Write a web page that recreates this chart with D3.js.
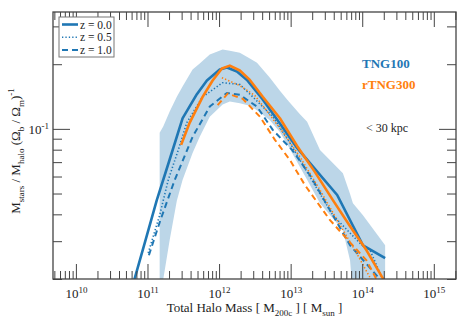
<!DOCTYPE html>
<html>
<head>
<meta charset="utf-8">
<script src="https://cdn.jsdelivr.net/npm/d3@7"></script>
<style>
    body { margin: 0; background: #fff; }
    svg text { font-family: "Liberation Serif", "Times New Roman", serif; }
    .tick line { stroke: #444; }
</style>
</head>
<body>
<div id="chart"></div>
<script>

    // TNG100 (blue), halo mass in log10 Msun, ratio M*/Mhalo/(Ob/Om)
    var tng100z0Mass  = [10.80, 10.96, 11.13, 11.31, 11.49, 11.69, 11.83, 12.01, 12.11, 12.25, 12.39, 12.61, 12.85, 13.09, 13.27, 13.65, 14.01, 14.32];
    var tng100z0Ratio = [0.0190, 0.0293, 0.0466, 0.072, 0.112, 0.145, 0.168, 0.189, 0.193, 0.185, 0.169, 0.137, 0.106, 0.0815, 0.0693, 0.0492, 0.0287, 0.0250];

    var tng100z05Mass  = [11.01, 11.17, 11.29, 11.43, 11.55, 11.77, 12.05, 12.29, 12.47, 12.75, 12.99, 13.13, 13.59, 13.97, 14.11, 14.32];
    var tng100z05Ratio = [0.0264, 0.0396, 0.0578, 0.0798, 0.107, 0.141, 0.164, 0.161, 0.141, 0.114, 0.0861, 0.0716, 0.0396, 0.0293, 0.0272, 0.0187];

    var tng100z1Mass  = [11.02, 11.17, 11.38, 11.63, 11.87, 12.11, 12.29, 12.53, 12.75, 13.02, 13.27, 13.59, 13.83, 14.04, 14.25];
    var tng100z1Ratio = [0.0258, 0.0367, 0.0578, 0.0918, 0.127, 0.147, 0.144, 0.127, 0.0989, 0.0798, 0.0609, 0.0396, 0.0287, 0.0239, 0.0199];

    // TNG100 z=0 scatter band
    var bandMass = [11.17, 11.22, 11.31, 11.41, 11.49, 11.63, 11.73, 11.87, 12.05, 12.15, 12.29, 12.43, 12.53, 12.71, 12.85, 12.95, 13.13, 13.23, 13.41, 13.73, 13.83, 13.87, 14.01, 14.32];
    var bandHi   = [0.0958, 0.1026, 0.1203, 0.141, 0.1573, 0.189, 0.2017, 0.222, 0.234, 0.231, 0.226, 0.2127, 0.203, 0.173, 0.1505, 0.137, 0.1171, 0.108, 0.0798, 0.0622, 0.0497, 0.0451, 0.0396, 0.0287];
    var bandLo   = [0.0159, 0.0199, 0.0304, 0.0463, 0.0578, 0.0773, 0.0918, 0.114, 0.1297, 0.134, 0.1316, 0.128, 0.122, 0.1096, 0.0968, 0.0851, 0.0664, 0.058, 0.0451, 0.0337, 0.0244, 0.017, 0.015, 0.015];

    // rTNG300 (orange)
    var rtng300z0Mass  = [11.47, 11.59, 11.77, 11.91, 12.04, 12.15, 12.29, 12.43, 12.61, 12.85, 13.09, 13.34, 13.59, 13.83, 14.06, 14.29, 14.32];
    var rtng300z0Ratio = [0.0842, 0.107, 0.141, 0.168, 0.191, 0.197, 0.187, 0.169, 0.141, 0.112, 0.0833, 0.0629, 0.0466, 0.0352, 0.0272, 0.0201, 0.0195];

    var rtng300z05Mass  = [12.04, 12.29, 12.50, 12.71, 12.92, 13.13, 13.41, 13.69, 13.90, 14.13];
    var rtng300z05Ratio = [0.173, 0.159, 0.143, 0.116, 0.0938, 0.0740, 0.0519, 0.0356, 0.0272, 0.0197];

    var rtng300z1Mass  = [11.98, 12.12, 12.33, 12.57, 12.78, 12.99, 13.20, 13.55, 13.83, 14.06, 14.20];
    var rtng300z1Ratio = [0.129, 0.146, 0.138, 0.114, 0.0889, 0.0716, 0.0547, 0.0376, 0.0296, 0.0244, 0.0199];

    var legendLabels = ["z = 0.0", "z = 0.5", "z = 1.0"];

    var blue = "#1f77b4";
    var orange = "#ff7f0e";

    var width = 469, height = 325;
    var margin = { top: 12, right: 13, bottom: 46, left: 53 };

    var x = d3.scaleLog()
        .domain([Math.pow(10, 9.68), Math.pow(10, 15.31)])
        .range([margin.left, width - margin.right]);
    var y = d3.scaleLog()
        .domain([0.02, 0.35])
        .range([height - margin.bottom, margin.top]);

    var svg = d3.select("#chart")
        .append("svg")
        .attr("width", width)
        .attr("height", height);

    svg.append("clipPath")
        .attr("id", "plotclip")
        .append("rect")
        .attr("x", margin.left)
        .attr("y", margin.top)
        .attr("width", x.range()[1] - x.range()[0])
        .attr("height", y.range()[0] - y.range()[1]);

    var plot = svg.append("g").attr("clip-path", "url(#plotclip)");

    function pairs(mass, ratio) {
        return mass.map(function (m, i) { return [Math.pow(10, m), ratio[i]]; });
    }

    var line = d3.line()
        .x(function (d) { return x(d[0]); })
        .y(function (d) { return y(d[1]); });

    var area = d3.area()
        .x(function (d) { return x(Math.pow(10, d.m)); })
        .y0(function (d) { return y(d.lo); })
        .y1(function (d) { return y(d.hi); });

    var band = bandMass.map(function (m, i) {
        return { m: m, lo: bandLo[i], hi: bandHi[i] };
    });

    plot.append("path")
        .datum(band)
        .attr("d", area)
        .attr("fill", "#bcd6e8");

    var series = [
        { mass: tng100z05Mass, ratio: tng100z05Ratio, color: blue, style: "dotted" },
        { mass: tng100z1Mass, ratio: tng100z1Ratio, color: blue, style: "dashed" },
        { mass: rtng300z05Mass, ratio: rtng300z05Ratio, color: orange, style: "dotted" },
        { mass: rtng300z1Mass, ratio: rtng300z1Ratio, color: orange, style: "dashed" },
        { mass: tng100z0Mass, ratio: tng100z0Ratio, color: blue, style: "solid" },
        { mass: rtng300z0Mass, ratio: rtng300z0Ratio, color: orange, style: "solid" }
    ];

    var styles = {
        solid:  { w: 2.6, dash: null },
        dotted: { w: 1.6, dash: "1.3,2.1" },
        dashed: { w: 2, dash: "6,4" }
    };

    series.forEach(function (s) {
        plot.append("path")
            .datum(pairs(s.mass, s.ratio))
            .attr("d", line)
            .attr("fill", "none")
            .attr("stroke", s.color)
            .attr("stroke-width", styles[s.style].w)
            .attr("stroke-dasharray", styles[s.style].dash)
            .attr("stroke-linejoin", "round");
    });

    // axes: major and minor ticks pointing inward on all four sides
    function isMajor(d) {
        var l = Math.log10(d);
        return Math.abs(l - Math.round(l)) < 1e-6;
    }
    var xMajor = x.ticks().filter(isMajor);
    var xMinor = x.ticks().filter(function (d) { return !isMajor(d); });
    var yMajor = y.ticks().filter(isMajor);
    var yMinor = y.ticks().filter(function (d) { return !isMajor(d); });

    var bottom = height - margin.bottom, right = width - margin.right;

    function supLabel(sel, size, supSize, dy) {
        sel.selectAll(".tick text")
            .text(null)
            .attr("fill", "#222")
            .attr("font-size", size)
            .each(function (d) {
                var t = d3.select(this);
                t.append("tspan").text("10");
                t.append("tspan").attr("dy", dy).attr("font-size", supSize)
                    .text(Math.round(Math.log10(d)));
            });
    }

    svg.append("g")
        .attr("transform", "translate(0," + bottom + ")")
        .call(d3.axisBottom(x).tickValues(xMinor).tickSize(-8).tickFormat(""))
        .call(function (g) { g.select(".domain").remove(); });
    svg.append("g")
        .attr("transform", "translate(0," + bottom + ")")
        .call(d3.axisBottom(x).tickValues(xMajor).tickSize(-15).tickPadding(10))
        .call(function (g) { g.select(".domain").remove(); })
        .call(supLabel, "13px", "9px", "-0.55em");

    svg.append("g")
        .attr("transform", "translate(0," + margin.top + ")")
        .call(d3.axisTop(x).tickValues(xMinor).tickSize(-8).tickFormat(""))
        .call(function (g) { g.select(".domain").remove(); });
    svg.append("g")
        .attr("transform", "translate(0," + margin.top + ")")
        .call(d3.axisTop(x).tickValues(xMajor).tickSize(-15).tickFormat(""))
        .call(function (g) { g.select(".domain").remove(); });

    svg.append("g")
        .attr("transform", "translate(" + margin.left + ",0)")
        .call(d3.axisLeft(y).tickValues(yMinor).tickSize(-9).tickFormat(""))
        .call(function (g) { g.select(".domain").remove(); });
    svg.append("g")
        .attr("transform", "translate(" + margin.left + ",0)")
        .call(d3.axisLeft(y).tickValues(yMajor).tickSize(-17).tickPadding(4))
        .call(function (g) { g.select(".domain").remove(); })
        .call(supLabel, "13px", "9px", "-0.55em");

    svg.append("g")
        .attr("transform", "translate(" + right + ",0)")
        .call(d3.axisRight(y).tickValues(yMinor).tickSize(-9).tickFormat(""))
        .call(function (g) { g.select(".domain").remove(); });
    svg.append("g")
        .attr("transform", "translate(" + right + ",0)")
        .call(d3.axisRight(y).tickValues(yMajor).tickSize(-17).tickFormat(""))
        .call(function (g) { g.select(".domain").remove(); });

    svg.selectAll(".tick line").attr("stroke", "#444").attr("stroke-width", 1);

    // frame
    svg.append("rect")
        .attr("x", margin.left)
        .attr("y", margin.top)
        .attr("width", right - margin.left)
        .attr("height", bottom - margin.top)
        .attr("fill", "none")
        .attr("stroke", "#444")
        .attr("stroke-width", 1.3);

    // axis titles
    var xt = svg.append("text")
        .attr("x", (margin.left + right) / 2)
        .attr("y", 312)
        .attr("text-anchor", "middle")
        .attr("font-size", "13px")
        .attr("fill", "#222");
    xt.append("tspan").text("Total Halo Mass [ M");
    xt.append("tspan").attr("dy", 4).attr("font-size", "9px").text("200c");
    xt.append("tspan").attr("dy", -4).text(" ] [ M");
    xt.append("tspan").attr("dy", 4).attr("font-size", "9px").text("sun");
    xt.append("tspan").attr("dy", -4).text(" ]");

    var yt = svg.append("text")
        .attr("transform", "translate(20,151) rotate(-90)")
        .attr("text-anchor", "middle")
        .attr("font-size", "13px")
        .attr("fill", "#222");
    yt.append("tspan").text("M");
    yt.append("tspan").attr("dy", 4).attr("font-size", "9px").text("stars");
    yt.append("tspan").attr("dy", -4).text(" / M");
    yt.append("tspan").attr("dy", 4).attr("font-size", "9px").text("halo");
    yt.append("tspan").attr("dy", -4).text(" (\u03A9");
    yt.append("tspan").attr("dy", 4).attr("font-size", "9px").text("b");
    yt.append("tspan").attr("dy", -4).text(" / \u03A9");
    yt.append("tspan").attr("dy", 4).attr("font-size", "9px").text("m");
    yt.append("tspan").attr("dy", -4).text(")");
    yt.append("tspan").attr("dy", -6).attr("font-size", "9px").text("-1");

    // legend
    var legend = svg.append("g");
    legend.append("rect")
        .attr("x", 59).attr("y", 17)
        .attr("width", 55).attr("height", 40)
        .attr("fill", "#fff")
        .attr("stroke", "#777")
        .attr("stroke-width", 1);
    ["solid", "dotted", "dashed"].forEach(function (st, i) {
        var ly = 24.5 + i * 12.8;
        legend.append("line")
            .attr("x1", 62).attr("x2", 78)
            .attr("y1", ly).attr("y2", ly)
            .attr("stroke", blue)
            .attr("stroke-width", styles[st].w)
            .attr("stroke-dasharray", styles[st].dash);
        legend.append("text")
            .attr("x", 80).attr("y", ly + 4)
            .attr("font-size", "11.5px")
            .attr("fill", "#222")
            .text(legendLabels[i]);
    });

    // annotations
    svg.append("text")
        .attr("x", 362).attr("y", 68)
        .attr("font-size", "13px")
        .attr("font-weight", "bold")
        .attr("fill", blue)
        .text("TNG100");
    svg.append("text")
        .attr("x", 362).attr("y", 88.5)
        .attr("font-size", "13px")
        .attr("font-weight", "bold")
        .attr("fill", orange)
        .text("rTNG300");
    svg.append("text")
        .attr("x", 366).attr("y", 132)
        .attr("font-size", "12px")
        .attr("fill", "#222")
        .text("< 30 kpc");

</script>
</body>
</html>
